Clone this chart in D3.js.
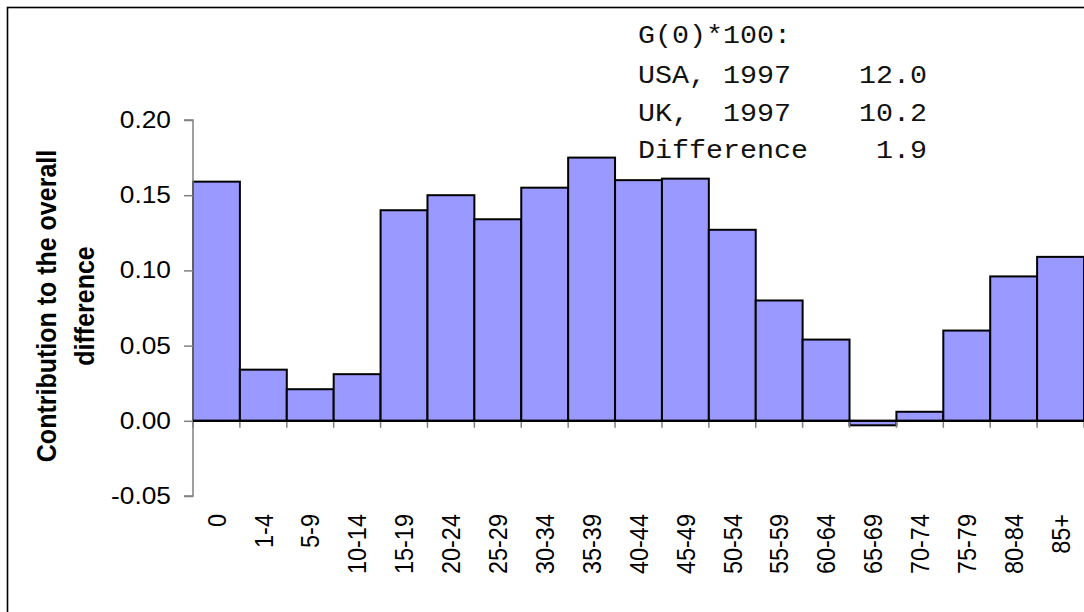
<!DOCTYPE html>
<html>
<head>
<meta charset="utf-8">
<script src="https://cdn.jsdelivr.net/npm/d3@7"></script>
<style>
  html, body { margin: 0; padding: 0; background: #fff; }
  svg { display: block; }
</style>
</head>
<body>
<svg id="chart" width="1084" height="612"></svg>
<script>
const categories = ["0","1-4","5-9","10-14","15-19","20-24","25-29","30-34","35-39","40-44","45-49","50-54","55-59","60-64","65-69","70-74","75-79","80-84","85+"];
const values = [0.159,0.034,0.021,0.031,0.140,0.150,0.134,0.155,0.175,0.160,0.161,0.127,0.080,0.054,-0.003,0.006,0.060,0.096,0.109];
const yTicks = [-0.05,0.00,0.05,0.10,0.15,0.20];
const yTitleLines = ["Contribution to the overall","difference"];
const boxLines = ["G(0)*100:","USA, 1997    12.0","UK,  1997    10.2","Difference    1.9"];

const svg = d3.select("#chart");
const W = 1084, H = 612;
const SX = 1.12; // horizontal stretch of text in the original
const plot = {left: 193, right: 1084, top: 120, bottom: 496};
const fmt = d => d3.format(".2f")(d).replace("\u2212","-");

// frame
svg.append("rect").attr("x",7.5).attr("y",7.5).attr("width",W+20).attr("height",H+20)
  .attr("fill","#fff").attr("stroke","#000").attr("stroke-width",1.6);

const x = d3.scaleBand().domain(categories).range([plot.left, plot.right]).padding(0);
const y = d3.scaleLinear().domain([-0.05,0.20]).range([plot.bottom, plot.top]);

// bars
svg.append("g").selectAll("rect").data(values).join("rect")
  .attr("x",(d,i)=>x(categories[i]))
  .attr("width",x.bandwidth())
  .attr("y",d=>y(Math.max(0,d)))
  .attr("height",d=>Math.abs(y(d)-y(0)))
  .attr("fill","#9999ff").attr("stroke","#000").attr("stroke-width",2);

// y axis
const yAxis = d3.axisLeft(y).tickValues(yTicks).tickSize(9).tickFormat(fmt);
const gy = svg.append("g").attr("transform",`translate(${plot.left},0)`).call(yAxis);
gy.select(".domain").attr("stroke","#808080").attr("stroke-width",1.5).attr("d",`M-9,${y(0.20)}H0V${y(-0.05)}H-9`);
gy.selectAll(".tick line").attr("stroke","#808080").attr("stroke-width",1.5);
gy.selectAll(".tick text").remove();
gy.selectAll(".tick").append("text")
  .attr("transform",`translate(-22,0) scale(${SX},1)`)
  .attr("dy","0.32em").attr("text-anchor","end")
  .attr("font-family","'Liberation Sans', Arial, sans-serif").attr("font-size",23.5).attr("fill","#000")
  .text(fmt);

// zero line with x ticks
const xAxis = d3.axisBottom(x).tickSize(0).tickFormat("");
const gx = svg.append("g").attr("transform",`translate(0,${y(0)})`).call(xAxis);
gx.select(".domain").remove();
const bounds = categories.map(c=>x(c)).concat([plot.right]);
gx.selectAll("line.bt").data(bounds).join("line").attr("class","bt")
  .attr("x1",d=>d).attr("x2",d=>d).attr("y1",0).attr("y2",7)
  .attr("stroke","#808080").attr("stroke-width",1.5);
gx.append("line").attr("x1",plot.left).attr("x2",plot.right).attr("y1",0).attr("y2",0)
  .attr("stroke","#000").attr("stroke-width",2.2);

// x labels
svg.append("g").selectAll("text").data(categories).join("text")
  .attr("transform",d=>`translate(${x(d)+x.bandwidth()/2},514) scale(${SX},1) rotate(-90)`)
  .attr("text-anchor","end").attr("dy","0.35em")
  .attr("font-family","'Liberation Sans', Arial, sans-serif").attr("font-size",23.5).attr("fill","#000")
  .text(d=>d);

// y title
const yt = svg.append("text")
  .attr("transform",`translate(56,306) scale(${SX},1) rotate(-90)`)
  .attr("text-anchor","middle")
  .attr("font-family","'Liberation Sans', Arial, sans-serif").attr("font-size",25).attr("font-weight","bold").attr("fill","#000");
yt.selectAll("tspan").data(yTitleLines).join("tspan")
  .attr("x",0).attr("dy",(d,i)=>i===0?0:"1.35em").text(d=>d);

// info box
const boxBase = [43,83,121,158];
svg.append("g").selectAll("text").data(boxLines).join("text")
  .attr("transform",(d,i)=>`translate(638,${boxBase[i]}) scale(${SX},1)`)
  .attr("xml:space","preserve").style("white-space","pre")
  .attr("font-family","'Liberation Mono', 'Courier New', monospace").attr("font-size",25.3).attr("fill","#111")
  .text(d=>d);
</script>
</body>
</html>
